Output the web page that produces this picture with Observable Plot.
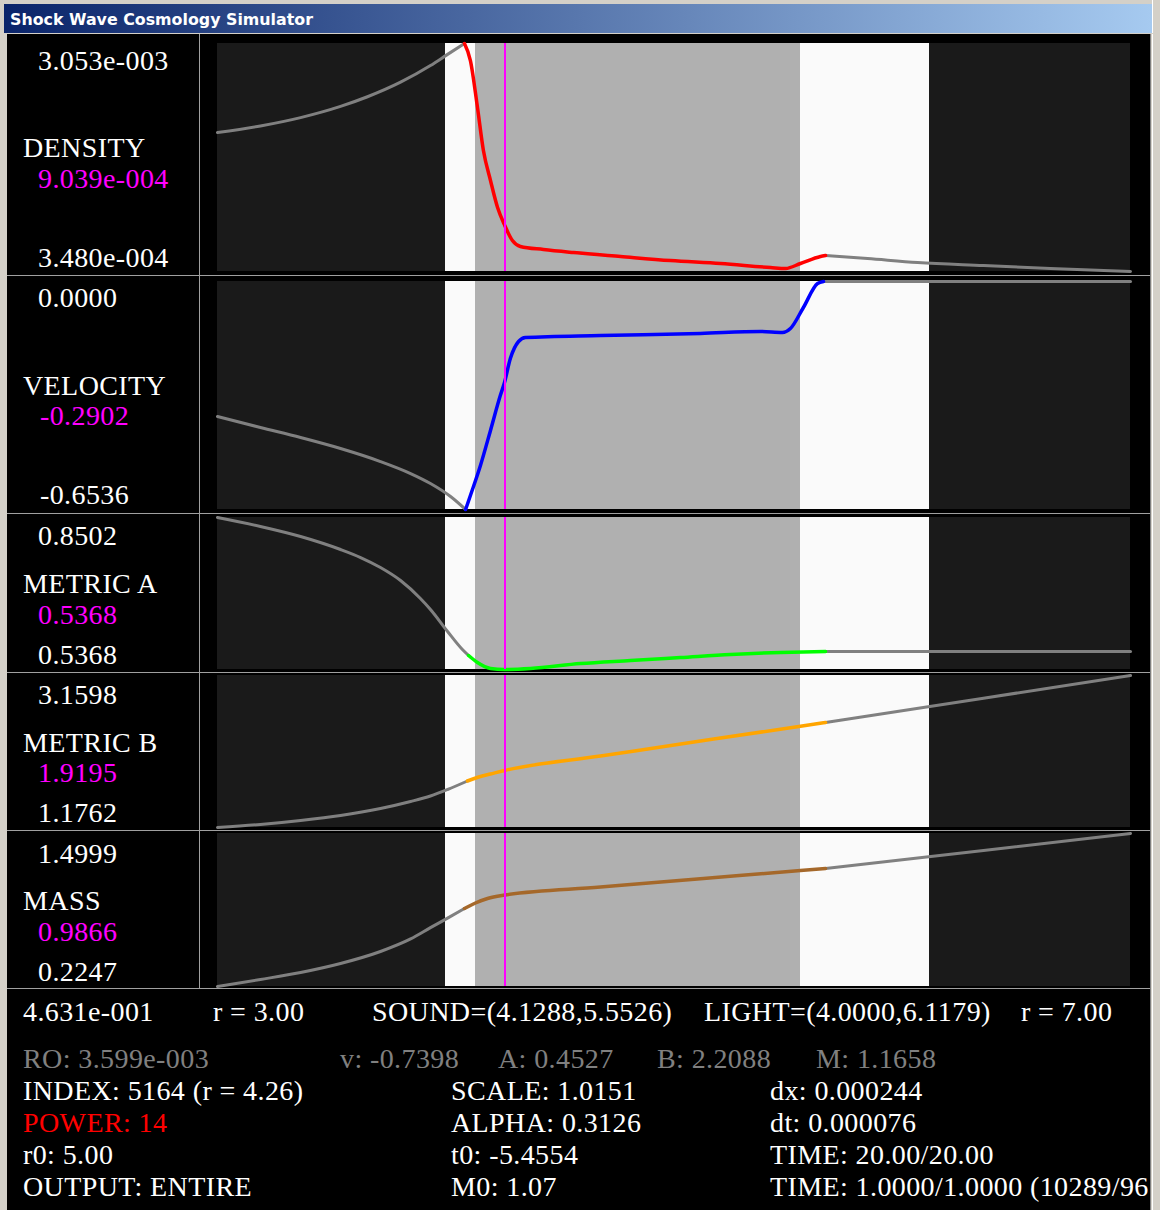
<!DOCTYPE html>
<html><head><meta charset="utf-8">
<script src="https://cdn.jsdelivr.net/npm/d3@7"></script>
<script src="https://cdn.jsdelivr.net/npm/@observablehq/plot@0.6"></script>
<style>
html,body{margin:0;padding:0;background:#d4d0c8;}
#win{position:relative;width:1160px;height:1210px;overflow:hidden;background:#d4d0c8;}
#titlebar{position:absolute;left:4px;top:4px;width:1148px;height:29px;background:linear-gradient(to right,#0a246a,#a6caf0);}
#content{position:absolute;left:7px;top:34px;width:1143px;height:1176px;background:#000;}
.panel{position:absolute;}
#overlay{position:absolute;left:0;top:0;}
</style></head>
<body><div id="win"><div id="titlebar"></div><div id="content"></div></div>
<script>
// ---------------- DATA ----------------
const windowTitle = "Shock Wave Cosmology Simulator";
const xDomain = [3.00, 7.00];
const bandEdges = [3.0000, 4.0000, 4.1288, 5.5526, 6.1179, 7.0000];
const bandFills = ["#1a1a1a", "#fafafa", "#b0b0b0", "#fafafa", "#1a1a1a"];
const indexR = 4.26;

const densityR = [3.000, 3.188, 3.364, 3.539, 3.657, 3.802, 3.933, 4.008, 4.082, 4.108, 4.139, 4.165, 4.196, 4.227, 4.257, 4.292, 4.327, 4.428, 4.560, 4.766, 4.985, 5.204, 5.423, 5.489, 5.554, 5.642, 5.664, 5.848, 6.067, 6.356, 6.649, 7.000];
const densityV = [1.997e-3, 2.075e-3, 2.174e-3, 2.307e-3, 2.421e-3, 2.594e-3, 2.791e-3, 2.924e-3, 3.053e-3, 2.851e-3, 2.294e-3, 1.784e-3, 1.428e-3, 1.107e-3, 0.904e-3, 0.716e-3, 0.645e-3, 0.609e-3, 0.573e-3, 0.526e-3, 0.478e-3, 0.443e-3, 0.395e-3, 0.384e-3, 0.443e-3, 0.526e-3, 0.538e-3, 0.502e-3, 0.455e-3, 0.419e-3, 0.384e-3, 0.348e-3];
const densityDomain = [3.480e-4, 3.053e-3];
const densityColored = [4.082, 5.664];

const velocityR = [3.000, 3.188, 3.364, 3.539, 3.714, 3.846, 3.933, 4.021, 4.087, 4.108, 4.152, 4.196, 4.239, 4.257, 4.283, 4.319, 4.349, 4.678, 5.116, 5.379, 5.475, 5.510, 5.567, 5.629, 5.655, 7.000];
const velocityV = [-0.3870, -0.4186, -0.4473, -0.4788, -0.5161, -0.5505, -0.5791, -0.6164, -0.6536, -0.6135, -0.5275, -0.427, -0.327, -0.2902, -0.2208, -0.172, -0.1606, -0.1548, -0.149, -0.1434, -0.1462, -0.1348, -0.0745, -0.0057, 0.0000, 0.0000];
const velocityDomain = [-0.6536, 0.0000];
const velocityColored = [4.087, 5.655];

const metricAR = [3.000, 3.188, 3.364, 3.539, 3.627, 3.714, 3.802, 3.889, 3.933, 4.008, 4.073, 4.100, 4.139, 4.196, 4.257, 4.371, 4.590, 4.809, 5.028, 5.248, 5.467, 5.664, 7.000];
const metricAV = [0.8502, 0.8317, 0.8110, 0.7842, 0.7677, 0.7471, 0.7203, 0.6832, 0.6605, 0.6152, 0.5780, 0.5657, 0.5512, 0.5389, 0.5368, 0.5389, 0.5492, 0.5554, 0.5615, 0.5677, 0.5719, 0.5739, 0.5739];
const metricADomain = [0.5368, 0.8502];
const metricAColored = [4.100, 5.664];

const metricBR = [3.000, 3.188, 3.364, 3.539, 3.714, 3.846, 3.933, 4.008, 4.095, 4.152, 4.196, 4.257, 4.678, 5.116, 5.554, 5.664, 6.356, 7.000];
const metricBV = [1.1762, 1.2154, 1.2676, 1.3328, 1.4242, 1.5155, 1.5873, 1.6720, 1.7830, 1.8417, 1.8744, 1.9195, 2.108, 2.304, 2.498, 2.546, 2.8636, 3.1598];
const metricBDomain = [1.1762, 3.1598];
const metricBColored = [4.095, 5.664];

const massR = [3.000, 3.188, 3.364, 3.539, 3.714, 3.846, 3.933, 4.008, 4.082, 4.130, 4.183, 4.257, 4.678, 5.116, 5.554, 5.664, 6.356, 7.000];
const massV = [0.2247, 0.2830, 0.3414, 0.4164, 0.5164, 0.6210, 0.7150, 0.7950, 0.8748, 0.9207, 0.9582, 0.9866, 1.0532, 1.1224, 1.1916, 1.2082, 1.3583, 1.4999];
const massDomain = [0.2247, 1.4999];
const massColored = [4.082, 5.664];

const panelNames = ["DENSITY", "VELOCITY", "METRIC A", "METRIC B", "MASS"];
const panelTopLabels = ["3.053e-003", "0.0000", "0.8502", "3.1598", "1.4999"];
const panelCurrentLabels = ["9.039e-004", "-0.2902", "0.5368", "1.9195", "0.9866"];
const panelBottomLabels = ["3.480e-004", "-0.6536", "0.5368", "1.1762", "0.2247"];
const curveColors = ["#ff0000", "#0000ff", "#00ff00", "#ffa500", "#a5682a"];

const infoRow1 = ["4.631e-001", "r = 3.00", "SOUND=(4.1288,5.5526)", "LIGHT=(4.0000,6.1179)", "r = 7.00"];
const infoRow2 = ["RO: 3.599e-003", "v: -0.7398", "A: 0.4527", "B: 2.2088", "M: 1.1658"];
const infoCol1 = ["INDEX: 5164 (r = 4.26)", "POWER: 14", "r0: 5.00", "OUTPUT: ENTIRE"];
const infoCol2 = ["SCALE: 1.0151", "ALPHA: 0.3126", "t0: -5.4554", "M0: 1.07"];
const infoCol3 = ["dx: 0.000244", "dt: 0.000076", "TIME: 20.00/20.00", "TIME: 1.0000/1.0000 (10289/96"];

// ---------------- LAYOUT ----------------
const panelData = [
  {r: densityR, v: densityV, domain: densityDomain, colored: densityColored},
  {r: velocityR, v: velocityV, domain: velocityDomain, colored: velocityColored},
  {r: metricAR, v: metricAV, domain: metricADomain, colored: metricAColored},
  {r: metricBR, v: metricBV, domain: metricBDomain, colored: metricBColored},
  {r: massR, v: massV, domain: massDomain, colored: massColored}
];
const panelTop = [43, 281, 517, 675, 833];
const panelH = [228, 228, 152, 152, 153];
const labelBaselines = [[70,157,188,267],[307,395,425,504],[545,593,624,664],[704,752,782,822],[863,910,941,981]];
const plotLeft = 217, plotW = 913, pad = 4;

const bands = bandFills.map((f, i) => ({x1: bandEdges[i], x2: bandEdges[i+1], fill: f}));

function buildRows(rs, vs, c) {
  const rows = [];
  rs.forEach((r, i) => {
    if (r <= c[0]) rows.push({r, v: vs[i], seg: 0});
    if (r >= c[0] && r <= c[1]) rows.push({r, v: vs[i], seg: 1});
    if (r >= c[1]) rows.push({r, v: vs[i], seg: 2});
  });
  return rows;
}

const win = document.getElementById("win");
panelData.forEach((p, i) => {
  const rows = buildRows(p.r, p.v, p.colored);
  const chart = Plot.plot({
    width: plotW + 2*pad, height: panelH[i] + 2*pad,
    marginTop: pad, marginBottom: pad, marginLeft: pad, marginRight: pad,
    x: {domain: xDomain, axis: null},
    y: {domain: p.domain, axis: null},
    style: {background: "transparent", overflow: "visible"},
    marks: [
      Plot.rect(bands, {x1: "x1", x2: "x2", y1: () => p.domain[0], y2: () => p.domain[1], fill: "fill", shapeRendering: "crispEdges"}),
      Plot.line(rows.filter(d => d.seg !== 1), {x: "r", y: "v", z: "seg", stroke: "#808080", strokeWidth: 3, curve: "monotone-x"}),
      Plot.line(rows.filter(d => d.seg === 1), {x: "r", y: "v", stroke: curveColors[i], strokeWidth: 3.5, curve: "monotone-x"}),
      Plot.ruleX([indexR], {stroke: "#ff00ff", strokeWidth: 1.2, shapeRendering: "crispEdges"})
    ]
  });
  chart.classList.add("panel");
  chart.style.left = (plotLeft - pad) + "px";
  chart.style.top = (panelTop[i] - pad) + "px";
  win.appendChild(chart);
});

// ---------------- OVERLAY (frame lines + texts) ----------------
const svg = d3.select(win).append("svg").attr("id", "overlay").attr("width", 1160).attr("height", 1210);
const lineColor = "#a0a0a0";
[275, 513, 672, 830, 988].forEach(y => {
  svg.append("line").attr("x1", 7).attr("x2", 1150).attr("y1", y + 0.5).attr("y2", y + 0.5).attr("stroke", lineColor);
});
svg.append("line").attr("x1", 199.5).attr("x2", 199.5).attr("y1", 34).attr("y2", 988).attr("stroke", lineColor);
svg.append("line").attr("x1", 1150.5).attr("x2", 1150.5).attr("y1", 34).attr("y2", 1210).attr("stroke", "#808080");
svg.append("line").attr("x1", 1152.5).attr("x2", 1152.5).attr("y1", 0).attr("y2", 1210).attr("stroke", "#ffffff");
svg.append("line").attr("x1", 0).attr("x2", 1160).attr("y1", 33.5).attr("y2", 33.5).attr("stroke", "#d4d0c8");

svg.append("text").text(windowTitle).attr("x", 10).attr("y", 25)
  .attr("font-family", "DejaVu Sans").attr("font-weight", "bold").attr("font-size", 15)
  .attr("fill", "#ffffff").attr("textLength", 303).attr("lengthAdjust", "spacingAndGlyphs");

function txt(s, x, y, color) {
  svg.append("text").text(s).attr("x", x).attr("y", y)
    .attr("font-family", "Liberation Serif, Times New Roman, serif").attr("font-size", 28)
    .attr("letter-spacing", "0.4px")
    .attr("fill", color).style("white-space", "pre");
}
panelNames.forEach((name, i) => {
  const b = labelBaselines[i];
  txt(panelTopLabels[i], 38, b[0], "#ffffff");
  txt(name, 23, b[1], "#ffffff");
  txt(panelCurrentLabels[i], panelCurrentLabels[i].startsWith("-") ? 40 : 38, b[2], "#ff00ff");
  txt(panelBottomLabels[i], panelBottomLabels[i].startsWith("-") ? 40 : 38, b[3], "#ffffff");
});
const row1X = [23, 213, 372, 704, 1021];
infoRow1.forEach((s, i) => txt(s, row1X[i], 1021, "#ffffff"));
const row2X = [23, 340, 498, 657, 816];
infoRow2.forEach((s, i) => txt(s, row2X[i], 1068, "#808080"));
const colY = [1100, 1132, 1164, 1196];
infoCol1.forEach((s, i) => txt(s, 23, colY[i], i === 1 ? "#ff0000" : "#ffffff"));
infoCol2.forEach((s, i) => txt(s, 451, colY[i], "#ffffff"));
infoCol3.forEach((s, i) => txt(s, 770, colY[i], "#ffffff"));
</script>
</body></html>
